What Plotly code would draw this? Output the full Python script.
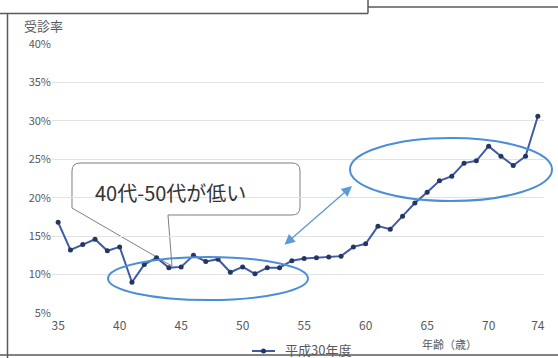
import plotly.graph_objects as go

# 受診率 by age (平成30年度)
ages = list(range(35, 75))
rates = [16.8, 13.2, 13.9, 14.6, 13.1, 13.6, 9.0, 11.3, 12.2, 10.9,
         11.0, 12.5, 11.7, 12.0, 10.3, 11.0, 10.1, 10.9, 10.9, 11.8,
         12.1, 12.2, 12.3, 12.4, 13.6, 14.0, 16.3, 15.9, 17.6, 19.3,
         20.7, 22.2, 22.8, 24.5, 24.8, 26.7, 25.4, 24.2, 25.4, 30.6]
x_ticks = [35, 40, 45, 50, 55, 60, 65, 70, 74]
y_ticks = [5, 10, 15, 20, 25, 30, 35, 40]
y_labels = [f"{v}%" for v in y_ticks]
series_name = "平成30年度"
callout_text = "40代-50代が低い"

# figure geometry (pixels)
FW, FH = 558, 358
L, R, T, B = 52, 544, 44, 313
W, H = R - L, B - T


def px(x):
    return (x - L) / W


def py(y):
    return (B - y) / H


FONT = "Noto Sans CJK JP"
GREY = "#595959"
LINE_COL = "#3F5AA6"
MARK_COL = "#253660"

fig = go.Figure()
fig.add_trace(go.Scatter(
    x=ages, y=rates, mode="lines+markers", name=series_name,
    line=dict(color=LINE_COL, width=2),
    marker=dict(color=MARK_COL, size=5),
    showlegend=False,
))

shapes = []

# speech-bubble callout
r = 8
bx0, bx1, by0, by1 = 72, 300, 163, 215
pts = [
    ("M", bx0 + r, by0), ("L", bx1 - r, by0), ("Q", bx1, by0, bx1, by0 + r),
    ("L", bx1, by1 - r), ("Q", bx1, by1, bx1 - r, by1), ("L", 168, by1),
    ("L", 172, 266), ("L", bx0, 208), ("L", bx0, by0 + r),
    ("Q", bx0, by0, bx0 + r, by0),
]
path = ""
for p in pts:
    cmd, coords = p[0], p[1:]
    conv = []
    for i in range(0, len(coords), 2):
        conv.append(f"{px(coords[i]):.5f},{py(coords[i + 1]):.5f}")
    path += cmd + " " + " ".join(conv) + " "
path += "Z"
shapes.append(dict(type="path", path=path, xref="paper", yref="paper",
                   fillcolor="white", line=dict(color="#7F7F7F", width=1),
                   layer="between"))

# highlight ellipses
for (x0, x1, y0, y1) in [(108, 308, 257, 300), (350, 552, 138, 201)]:
    shapes.append(dict(type="circle", xref="paper", yref="paper",
                       x0=px(x0), x1=px(x1), y0=py(y1), y1=py(y0),
                       line=dict(color="#4A8ED6", width=2), layer="above"))

# outer frame lines
frame_col = "#5A5A5A"
for (x0, y0, x1, y1) in [(0, 13.5, 368, 13.5), (368, 0, 368, 13.5),
                         (368, 7, 558, 7), (7.5, 13.5, 7.5, 358),
                         (0, 355, 558, 355)]:
    shapes.append(dict(type="line", xref="paper", yref="paper",
                       x0=px(x0), x1=px(x1), y0=py(y0), y1=py(y1),
                       line=dict(color=frame_col, width=1.5), layer="above"))

# legend sample: line with a marker
shapes.append(dict(type="line", xref="paper", yref="paper",
                   x0=px(252), x1=px(275), y0=py(351), y1=py(351),
                   line=dict(color=LINE_COL, width=2), layer="above"))
shapes.append(dict(type="circle", xref="paper", yref="paper",
                   x0=px(261), x1=px(266), y0=py(353.5), y1=py(348.5),
                   fillcolor=MARK_COL, line=dict(width=0), layer="above"))


def label(text, x, y, size, color=GREY, xanchor="center"):
    return dict(text=text, x=px(x), y=py(y), xref="paper", yref="paper",
                xanchor=xanchor, yanchor="middle", showarrow=False,
                font=dict(family=FONT, size=size, color=color))


annotations = [
    label(callout_text, 170, 192, 20, color="#333333"),
    label("受診率", 22, 25, 13, xanchor="left"),
    label("年齢（歳）", 449, 344, 11),
    label(series_name, 283, 350, 13, xanchor="left"),
    # double-headed arrow between the two highlighted ranges
    dict(x=px(352), y=py(186), xref="paper", yref="paper", text="",
         showarrow=True, ax=-69, ay=60, axref="pixel", ayref="pixel",
         arrowside="end+start", arrowhead=2, startarrowhead=2,
         arrowsize=1.6, startarrowsize=1.6, arrowwidth=1.3,
         arrowcolor="#5B9BD5"),
]

fig.update_layout(
    width=FW, height=FH,
    margin=dict(l=L, r=FW - R, t=T, b=FH - B),
    paper_bgcolor="white", plot_bgcolor="rgba(0,0,0,0)",
    shapes=shapes, annotations=annotations,
    showlegend=False,
    xaxis=dict(range=[34.5, 74.5], tickvals=x_ticks, showgrid=False,
               zeroline=False, showline=False, ticks="",
               ticklabelstandoff=4,
               tickfont=dict(family=FONT, size=12, color=GREY)),
    yaxis=dict(range=[5, 40], tickvals=y_ticks, ticktext=y_labels,
               showgrid=True, gridcolor="#E3E3E3", gridwidth=1,
               zeroline=False, showline=False, ticks="",
               tickfont=dict(family=FONT, size=11, color=GREY)),
)

fig.write_html("out.html")
